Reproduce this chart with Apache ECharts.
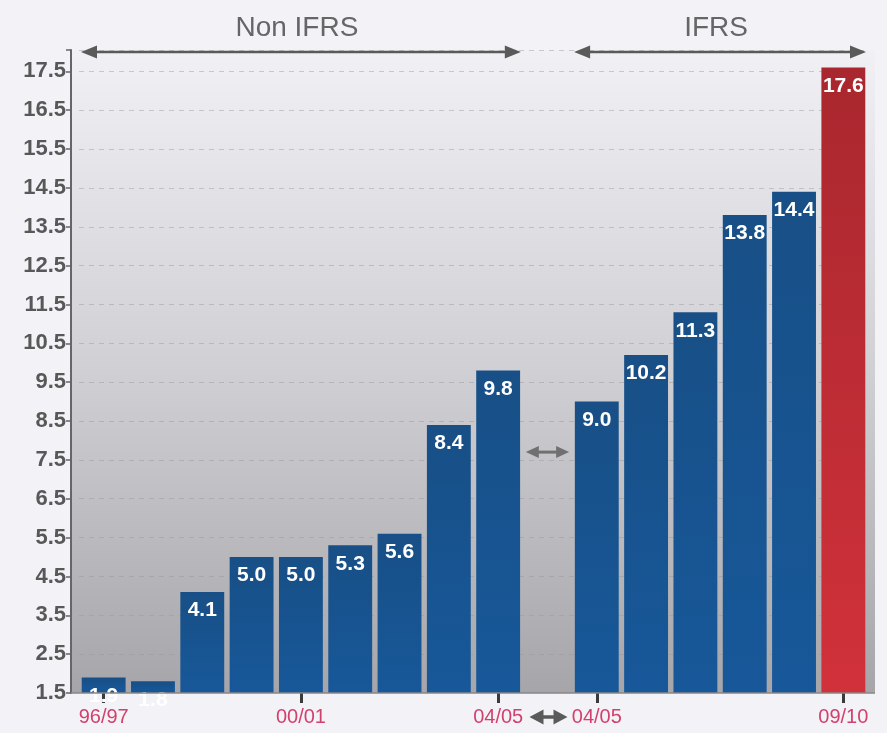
<!DOCTYPE html>
<html><head><meta charset="utf-8">
<script src="https://cdn.jsdelivr.net/npm/echarts@6/dist/echarts.min.js"></script>
<style>html,body{margin:0;padding:0;background:#f3f3f7}#c{width:887px;height:733px}</style>
</head><body><div id="c"></div>
<script>
// ---- data ----
const categories = ['96/97','97/98','98/99','99/00','00/01','01/02','02/03','03/04','04/05','','04/05','05/06','06/07','07/08','08/09','09/10'];
const values = [1.9, 1.8, 4.1, 5.0, 5.0, 5.3, 5.6, 8.4, 9.8, null, 9.0, 10.2, 11.3, 13.8, 14.4, 17.6];
const highlightIndex = 15;
const shownLabelIndex = [0, 4, 8, 10, 15];
const groupNames = ['Non IFRS', 'IFRS'];
const groupFrom = [0, 10];
const groupTo = [8, 15];
const gapIndex = 9;
const gapArrowValue = 7.7;
const yMin = 1.5, yMax = 18.05, yStep = 1;

const FONT = '"Liberation Sans", Arial, Helvetica, sans-serif';
const blue = new echarts.graphic.LinearGradient(0,0,0,1,[{offset:0,color:'#184f86'},{offset:1,color:'#17589a'}]);
const red = new echarts.graphic.LinearGradient(0,0,0,1,[{offset:0,color:'#a9272e'},{offset:1,color:'#d1313a'}]);

const seriesData = values.map((v,i) => v === null ? '-' : {
  value: v,
  itemStyle: { color: i === highlightIndex ? red : blue }
});
const showIdx = (i) => shownLabelIndex.indexOf(i) >= 0;

const chart = echarts.init(document.getElementById('c'), null, {renderer:'canvas'});
const option = {
  backgroundColor: '#f3f3f7',
  animation: false,
  grid: { left: 79, right: 19, top: 50, bottom: 40 },
  xAxis: [{
    type: 'category', data: categories, position: 'bottom',
    axisLine: { show: false },
    axisTick: { show: true, interval: showIdx, alignWithLabel: true, length: 10, lineStyle: { color: '#3a3a3a', width: 3 } },
    axisLabel: { interval: showIdx, color: '#d2416e', fontSize: 20, fontFamily: FONT, margin: 14 },
    splitLine: { show: false }
  }, {
    type: 'category', data: categories, position: 'bottom', offset: 0,
    axisLine: { show: false },
    axisTick: { show: true, inside: true, interval: showIdx, alignWithLabel: true, length: 5, lineStyle: { color: '#3a3a3a', width: 3 } },
    axisLabel: { show: false }
  }],
  yAxis: {
    type: 'value', min: yMin, max: yMax, interval: yStep, offset: 8,
    axisLine: { show: true, lineStyle: { color: '#666', width: 2 } },
    axisTick: { show: true, length: 5, lineStyle: { color: '#666', width: 1.5 } },
    axisLabel: {
      color: '#585858', fontSize: 22, fontWeight: 'bold', fontFamily: FONT, margin: 5,
      formatter: (v) => Math.abs((v - yMin) - Math.round(v - yMin)) < 1e-6 ? v.toFixed(1) : ''
    },
    splitLine: { show: true, showMinLine: false, lineStyle: { color: 'rgba(150,150,156,0.45)', type: [5, 5], width: 1 } }
  },
  series: [{
    type: 'bar', xAxisIndex: 0, yAxisIndex: 0,
    data: seriesData,
    barCategoryGap: '11%',
    label: { show: true, position: 'insideTop', distance: 8, color: '#fff', fontSize: 21, fontWeight: 'bold', fontFamily: FONT,
      formatter: (p) => Number(p.value).toFixed(1) }
  }]
};
chart.setOption(option);

// ---- annotations derived from the axes ----
const px = (i, v) => chart.convertToPixel({xAxisIndex: 0, yAxisIndex: 0}, [i, v]);
const band = px(1, yMin)[0] - px(0, yMin)[0];
const yTop = px(0, yMax)[1], yBot = px(0, yMin)[1];
const bgL = px(0, yMin)[0] - band/2 - 8, bgR = px(categories.length-1, yMin)[0] + band/2 + 7;

function dArrow(x1, x2, y, color, lw, hl, hh) {
  return [
    {type:'line', z:50, shape:{x1:x1+hl*0.8, y1:y, x2:x2-hl*0.8, y2:y}, style:{stroke:color, lineWidth:lw}},
    {type:'polygon', z:50, shape:{points:[[x1,y],[x1+hl,y-hh],[x1+hl,y+hh]]}, style:{fill:color}},
    {type:'polygon', z:50, shape:{points:[[x2,y],[x2-hl,y-hh],[x2-hl,y+hh]]}, style:{fill:color}}
  ];
}
const els = [];
els.push({type:'rect', z:-10, shape:{x:bgL, y:yTop, width:bgR-bgL, height:yBot-yTop},
  style:{fill:new echarts.graphic.LinearGradient(0,0,0,1,[{offset:0,color:'#f1f1f5'},{offset:0.5,color:'#d0d0d4'},{offset:1,color:'#a6a6aa'}])}});
els.push({type:'line', z:40, shape:{x1:bgL, y1:yBot, x2:bgR, y2:yBot}, style:{stroke:'#8a8686', lineWidth:1.5}});
for (let g = 0; g < groupNames.length; g++) {
  const x1 = px(groupFrom[g], yMax)[0] - band/2 + 2;
  const x2 = px(groupTo[g], yMax)[0] + band/2 - 2;
  els.push(...dArrow(x1, x2, yTop + 2, '#5a5a5a', 2.5, 16, 6.5));
  els.push({type:'text', z:50, style:{text: groupNames[g], x:(x1+x2)/2 - 4, y: yTop - 22, textAlign:'center', textVerticalAlign:'middle',
    fontSize: 28, fontFamily: FONT, fill:'#666'}});
}
const gx = px(gapIndex, gapArrowValue);
els.push(...dArrow(gx[0] - band/2 + 3, gx[0] + band/2 - 3, gx[1], '#707070', 3, 13, 6));
els.push(...dArrow(gx[0] - 18, gx[0] + 20, yBot + 24, '#5a5a5a', 3.5, 14, 7.5));
chart.setOption({graphic: {elements: els}});
</script></body></html>
